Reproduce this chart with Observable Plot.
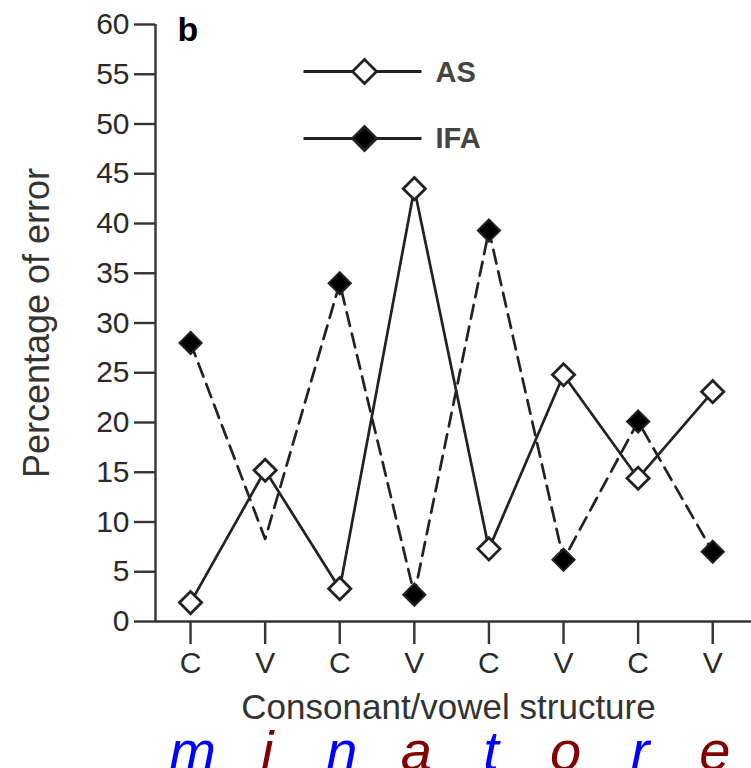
<!DOCTYPE html>
<html>
<head>
<meta charset="utf-8">
<script src="https://cdn.jsdelivr.net/npm/d3@7"></script>
<script src="https://cdn.jsdelivr.net/npm/@observablehq/plot@0.6"></script>
<style>
  html, body { margin: 0; padding: 0; background: #fff; }
</style>
</head>
<body>
<div id="chart"></div>
<script>
// ---- data ----
const structure = ["C", "V", "C", "V", "C", "V", "C", "V"];
const word = ["m", "i", "n", "a", "t", "o", "r", "e"];
const asValues = [1.9, 15.2, 3.3, 43.5, 7.3, 24.8, 14.4, 23.1];
const ifaValues = [28.0, 8.3, 34.0, 2.7, 39.3, 6.2, 20.1, 7.0];
const ifaMarkerShown = [true, false, true, true, true, true, true, true];
const yTicks = [0, 5, 10, 15, 20, 25, 30, 35, 40, 45, 50, 55, 60];
const seriesNames = ["AS", "IFA"];

const xDomain = [-0.47, 7.52];
const yDomain = [0, 60];

const rows = structure.map((s, i) => ({i, s, as: asValues[i], ifa: ifaValues[i], letter: word[i], showIfa: ifaMarkerShown[i]}));

const ink = "#222";

// legend symbol: line with a diamond in the middle
const legendSymbol = {
  draw(context, size) {
    const r = 12;
    context.moveTo(-61, 0); context.lineTo(-r, 0);
    context.moveTo(r, 0); context.lineTo(57, 0);
    context.moveTo(0, -r); context.lineTo(r, 0); context.lineTo(0, r); context.lineTo(-r, 0); context.closePath();
  }
};

const chart = Plot.plot({
  width: 751,
  height: 768,
  marginLeft: 155,
  marginRight: 0,
  marginTop: 24,
  marginBottom: 147,
  style: {fontFamily: "'Liberation Sans', Arial, sans-serif", color: "#333", background: "#fff", overflow: "visible"},
  x: {type: "linear", domain: xDomain},
  y: {domain: yDomain},
  marks: [
    // axis lines
    Plot.ruleX([xDomain[0]], {y1: yDomain[0], y2: yDomain[1], stroke: "#333", strokeWidth: 2.4}),
    Plot.ruleY([0], {stroke: "#333", strokeWidth: 2.4}),
    Plot.axisY({ticks: yTicks, tickSize: 21, tickPadding: 5, fontSize: 30, label: null, strokeWidth: 2.4, fill: "#2a2a2a"}),
    Plot.axisX({ticks: d3.range(structure.length), tickFormat: i => structure[i], tickSize: 23, tickPadding: 7, fontSize: 30, label: null, strokeWidth: 2.4, fill: "#2a2a2a"}),
    // titles
    Plot.text(["Percentage of error"], {frameAnchor: "left", rotate: -90, dx: -118, textAnchor: "middle", lineAnchor: "middle", fontSize: 36, fill: "#333"}),
    Plot.text(["Consonant/vowel structure"], {frameAnchor: "bottom", dy: 86, dx: -5, textAnchor: "middle", lineAnchor: "middle", fontSize: 35, fill: "#333"}),
    // word letters
    Plot.text(rows.filter(d => d.s === "C"), {x: "i", text: "letter", frameAnchor: "bottom", dy: 148, dx: 2, lineAnchor: "bottom", fontSize: 56, fontStyle: "italic", fill: "#0000ff"}),
    Plot.text(rows.filter(d => d.s === "V"), {x: "i", text: "letter", frameAnchor: "bottom", dy: 148, dx: 2, lineAnchor: "bottom", fontSize: 56, fontStyle: "italic", fill: "#800000"}),
    // series lines
    Plot.line(rows, {x: "i", y: "ifa", stroke: ink, strokeWidth: 2.7, strokeDasharray: "14,8"}),
    Plot.line(rows, {x: "i", y: "as", stroke: ink, strokeWidth: 2.7}),
    // markers
    Plot.dot(rows.filter(d => d.showIfa), {x: "i", y: "ifa", symbol: "diamond2", r: 10, fill: "#000", stroke: ink, strokeWidth: 2}),
    Plot.dot(rows, {x: "i", y: "as", symbol: "diamond2", r: 10, fill: "#fff", stroke: ink, strokeWidth: 2.8}),
    // panel letter
    Plot.text(["b"], {frameAnchor: "top-left", dx: 22, dy: 16, textAnchor: "start", lineAnchor: "bottom", fontSize: 34, fontWeight: "bold", fill: "#000"}),
    // legend
    Plot.dot([seriesNames[0]], {frameAnchor: "top-left", dx: 209, dy: 47, symbol: legendSymbol, r: 10, fill: "#fff", stroke: ink, strokeWidth: 2.8}),
    Plot.dot([seriesNames[1]], {frameAnchor: "top-left", dx: 209, dy: 114, symbol: legendSymbol, r: 10, fill: "#000", stroke: ink, strokeWidth: 2.8}),
    Plot.text([seriesNames[0]], {frameAnchor: "top-left", dx: 280, dy: 48, textAnchor: "start", lineAnchor: "middle", fontSize: 29, fontWeight: "bold", fill: "#444"}),
    Plot.text([seriesNames[1]], {frameAnchor: "top-left", dx: 280, dy: 114, textAnchor: "start", lineAnchor: "middle", fontSize: 29, fontWeight: "bold", fill: "#444"})
  ]
});
document.getElementById("chart").appendChild(chart);
</script>
</body>
</html>
